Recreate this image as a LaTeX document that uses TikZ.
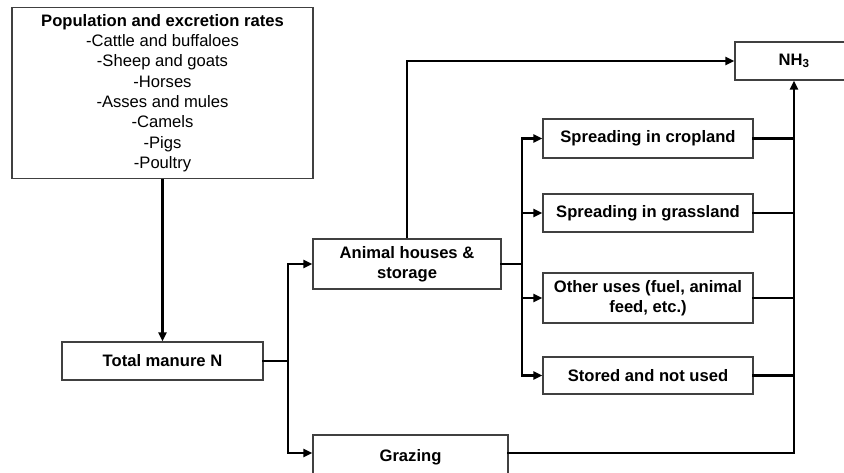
\documentclass[tikz,border=0pt]{standalone}
\usepackage{fontspec}
\setmainfont{Liberation Sans}
\usetikzlibrary{calc, positioning, arrows.meta}
\tikzset{
>={Triangle[length=9pt,width=8pt]},
box/.style={draw=black!75, line width=1.1pt, fill=white, align=center, inner sep=0pt,
            font=\fontsize{16.6}{19.5}\selectfont\bfseries},
link/.style={draw=black, line width=2.3pt, line cap=rect},
flow/.style={draw=black, line width=2.3pt, ->},
}

\begin{document}
\begin{tikzpicture}[x=1pt, y=-1pt]
    \clip (0,0) rectangle (844,472);
    \node[box, minimum width=301pt, minimum height=171pt, font=\fontsize{16.6}{20.3}\selectfont\bfseries] (pop) at (162.5,93)
        {Population and excretion rates\\
         \mdseries -Cattle and buffaloes\\ \mdseries -Sheep and goats\\ \mdseries -Horses\\
         \mdseries -Asses and mules\\ \mdseries -Camels\\ \mdseries -Pigs\\ \mdseries -Poultry};
    \node[box, minimum width=201pt, minimum height=38pt] (total) at (162.5,361) {Total manure N};
    \node[box, minimum width=188pt, minimum height=50pt] (house) at (407,264) {Animal houses \&\\ storage};
    \node[box, minimum width=195pt, minimum height=44pt] (graze) at (410.5,457) {Grazing};
    \node[box, minimum width=210pt, minimum height=39pt] (crop) at (648,138.5) {Spreading in cropland};
    \node[box, minimum width=210pt, minimum height=38pt] (grass) at (648,213) {Spreading in grassland};
    \node[box, minimum width=210pt, minimum height=50pt] (other) at (648,298) {Other uses (fuel, animal\\ feed, etc.)};
    \node[box, minimum width=210pt, minimum height=37pt] (stored) at (648,375.5) {Stored and not used};
    \node[box, minimum width=118pt, minimum height=38pt] (nh3) at (794,61) {NH\textsubscript{3}};

    \coordinate (jl) at (288,361);
    \coordinate (jr) at (522,264);
    \coordinate (up) at (794,453);

    \draw[flow] (pop) -- (total);
    \draw[link] (total) -- (jl);
    \draw[flow] (jl) |- (house);
    \draw[flow] (jl) |- ($(graze.west)+(0,-4)$);
    \draw[flow] (house.north) |- (nh3);
    \draw[link] (house) -- (jr);
    \foreach \n in {crop, grass, other, stored}
        \draw[flow] (jr) |- (\n);
    \foreach \n in {crop, grass, other, stored}
        \draw[link] (\n.east) -- (\n.east -| up);
    \draw[link] ($(graze.east)+(0,-4)$) -- (up) -- (up |- stored.east);
    \draw[flow] (up |- stored.east) -- (nh3.south -| up);
\end{tikzpicture}
\end{document}
